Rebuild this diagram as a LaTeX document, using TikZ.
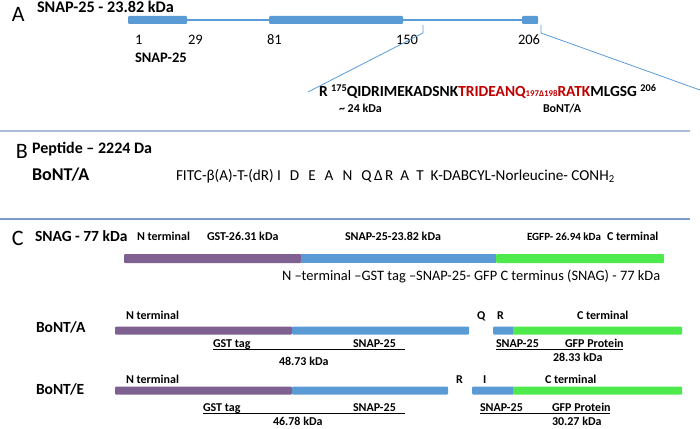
\documentclass[tikz,border=0pt]{standalone}
\usepackage{fontspec}
\setmainfont{Carlito}
\definecolor{sblue}{HTML}{5B9BD5}
\definecolor{spurple}{HTML}{7E6191}
\definecolor{sgreen}{HTML}{4DE94D}
\definecolor{sred}{HTML}{C00000}
\definecolor{sepA}{HTML}{A7BED6}
\definecolor{sepB}{HTML}{7A9CC6}
\newcommand{\fs}[1]{\fontsize{#1}{#1}\selectfont}
\begin{document}
\begin{tikzpicture}[x=1pt,y=-1pt,
  lbl/.style={anchor=base west,inner sep=0pt,outer sep=0pt},
  panel/.style={lbl,font=\fs{22}},
  small/.style={lbl,font=\fs{12}\bfseries},
  num/.style={lbl,font=\fs{14.5}},
  bar/.style={draw=none,inner sep=0pt,outer sep=0pt,rounded corners=1pt},
  thinl/.style={sblue,line width=2pt},
  conn/.style={sblue,line width=0.8pt},
  uline/.style={black,line width=0.8pt}]
\path[use as bounding box] (0,0) rectangle (700,428);
% ---------- A ----------
\node[panel] (pA) at (12,22) {A};
\node[lbl,font=\fs{16.2}\bfseries] (tA) at (37,12.5) {SNAP-25 - 23.82 kDa};
\node[bar,fill=sblue,minimum width=59pt,minimum height=8pt] (b1) at (157.5,20) {};
\node[bar,fill=sblue,minimum width=134pt,minimum height=8pt] (b2) at (336,20) {};
\node[bar,fill=sblue,minimum width=16pt,minimum height=8pt] (b3) at (530,20) {};
\draw[thinl] (b1.east) -- (b2.west);
\draw[thinl] (b2.east) -- (b3.west);
\node[num] (n1) at (135,45) {1};
\node[num] (n29) at (188,45) {29};
\node[num] (n81) at (267,45) {81};
\node[num] (n150) at (396,45) {150};
\node[num] (n206) at (518,45) {206};
\node[lbl,font=\fs{14.5}\bfseries] (sn) at (135,63) {SNAP-25};
\node[lbl,font=\fs{15.4}\bfseries] (seq) at (319,96) {R \raisebox{5pt}{\fs{10.3}175}QIDRIMEKADSNK\textcolor{sred}{TRIDEANQ\raisebox{-0.5pt}{\fs{8.8}197Δ198}RATK}MLGSG \raisebox{5pt}{\fs{10.3}206}};
\node[small] (kd24) at (339,112) {\~{} 24 kDa};
\node[small] (bA1) at (543,112) {BoNT/A};
\coordinate (c1a) at (423,25);
\coordinate (c1b) at (423,33);
\coordinate (c1c) at (308,92);
\coordinate (c2a) at (541,25);
\coordinate (c2b) at (541,33);
\coordinate (c2c) at (700,90);
\draw[conn] (c1a) -- (c1b) -- (c1c);
\draw[conn] (c2a) -- (c2b) -- (c2c);
% separator
\coordinate (s1a) at (0,130.5);
\coordinate (s1b) at (690,130.5);
\draw[sepA,line width=2pt] (s1a) -- (s1b);
% ---------- B ----------
\node[panel] (pB) at (16,158) {B};
\node[lbl,font=\fs{16}\bfseries] (pep) at (32,153.5) {Peptide – 2224 Da};
\node[lbl,font=\fs{18}\bfseries] (bB) at (32,180) {BoNT/A};
\node[lbl,font=\fs{15.2}] (fitc) at (176,180) {FITC-β(A)-T-(dR) I\hspace{9pt}D\hspace{9pt}E\hspace{9pt}A\hspace{9pt}N\hspace{9pt}Q\,Δ\,R\hspace{7pt}A\hspace{7pt}T\hspace{7pt}K-DABCYL-Norleucine- CONH\textsubscript{2}};
\coordinate (s2a) at (0,219);
\coordinate (s2b) at (690,219);
\draw[sepB,line width=1.5pt] (s2a) -- (s2b);
% ---------- C ----------
\node[panel] (pC) at (12,245) {C};
\node[lbl,font=\fs{15.5}\bfseries] (snag) at (35,241) {SNAG - 77 kDa};
\node[small] (cn) at (137,240) {N terminal};
\node[small] (cg) at (207,240) {GST-26.31 kDa};
\node[small] (cs) at (345,240) {SNAP-25-23.82 kDa};
\node[small,font=\fs{11}\bfseries] (ce) at (527,240) {EGFP- 26.94 kDa};
\node[small] (cc) at (607,240) {C terminal};
\node[bar,fill=spurple,minimum width=177pt,minimum height=9pt,anchor=west] (cp) at (124,258.5) {};
\node[bar,fill=sblue,minimum width=195pt,minimum height=9pt,anchor=west,rounded corners=0pt] (cb) at (301,258.5) {};
\node[bar,fill=sgreen,minimum width=168pt,minimum height=9pt,anchor=west] (cgr) at (496,258.5) {};
\node[lbl,font=\fs{14.4}] (cap) at (282,280) {N –terminal –GST tag –SNAP-25- GFP C terminus (SNAG) - 77 kDa};
% ---------- BoNT/A row ----------
\node[lbl,font=\fs{15.5}\bfseries] (rA) at (36,332) {BoNT/A};
\node[small] (rAn) at (126,319) {N terminal};
\node[small] (rAq) at (477,319) {Q};
\node[small] (rAr) at (497,319) {R};
\node[small] (rAc) at (577,319) {C terminal};
\node[bar,fill=spurple,minimum width=177pt,minimum height=8pt,anchor=west] (aP) at (115,330.5) {};
\node[bar,fill=sblue,minimum width=177pt,minimum height=8pt,anchor=west] (aB) at (292,330.5) {};
\node[bar,fill=sblue,minimum width=21pt,minimum height=8pt,anchor=west] (aB2) at (493,330.5) {};
\node[bar,fill=sgreen,minimum width=169pt,minimum height=8pt,anchor=west] (aG) at (513,330.5) {};
\node[small] (aGst) at (213,347.5) {GST tag};
\node[small] (aSn) at (353,347.5) {SNAP-25};
\node[small] (aKd) at (279,365) {48.73 kDa};
\node[small] (aSn2) at (496,347.5) {SNAP-25};
\node[small] (aGfp) at (565,347.5) {GFP Protein};
\node[small] (aKd2) at (553,361) {28.33 kDa};
\coordinate (aU1) at (405,349.5);
\coordinate (aU2) at (623,349.5);
\draw[uline] (aGst.base west) ++(0,2) -- (aU1);
\draw[uline] (aSn2.base west) ++(0,2) -- (aU2);
% ---------- BoNT/E row ----------
\node[lbl,font=\fs{15.5}\bfseries] (rE) at (36,394) {BoNT/E};
\node[small] (rEn) at (126,383) {N terminal};
\node[small] (rEr) at (456,383) {R};
\node[small] (rEi) at (483,383) {I};
\node[small] (rEc) at (545,383) {C terminal};
\node[bar,fill=spurple,minimum width=177pt,minimum height=8pt,anchor=west] (eP) at (115,390.5) {};
\node[bar,fill=sblue,minimum width=156pt,minimum height=8pt,anchor=west] (eB) at (292,390.5) {};
\node[bar,fill=sblue,minimum width=42pt,minimum height=8pt,anchor=west] (eB2) at (472,390.5) {};
\node[bar,fill=sgreen,minimum width=169pt,minimum height=8pt,anchor=west] (eG) at (513,390.5) {};
\node[small] (eGst) at (203,411.5) {GST tag};
\node[small] (eSn) at (353,411.5) {SNAP-25};
\node[small] (eKd) at (273,425.5) {46.78 kDa};
\node[small] (eSn2) at (480,411.5) {SNAP-25};
\node[small] (eGfp) at (552,411.5) {GFP Protein};
\node[small] (eKd2) at (552,425.5) {30.27 kDa};
\coordinate (eU1) at (405,413.5);
\coordinate (eU2) at (610,413.5);
\draw[uline] (eGst.base west) ++(0,2) -- (eU1);
\draw[uline] (eSn2.base west) ++(0,2) -- (eU2);
\end{tikzpicture}
\end{document}
